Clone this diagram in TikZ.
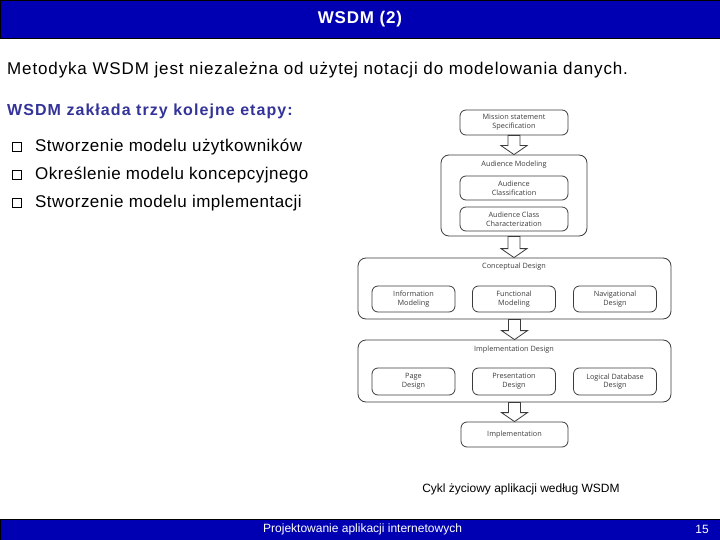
\documentclass[tikz,border=0pt]{standalone}
\usepackage{fontspec}
\setmainfont{Liberation Sans}
\newfontfamily\diagfont{Open Sans}
\usetikzlibrary{calc,shadows}
\definecolor{slideblue}{RGB}{0,0,178}
\definecolor{headblue}{RGB}{51,51,153}
\definecolor{dgray}{RGB}{60,60,60}
\tikzset{
  box/.style={draw=dgray, line width=0.8pt, rounded corners=6pt, align=center,
    font=\diagfont\fontsize{7.3}{8.7}\selectfont, text=dgray, inner sep=0pt},
  outerbox/.style={draw=dgray, line width=0.8pt, rounded corners=8pt, inner sep=0pt},
  boxtitle/.style={font=\diagfont\fontsize{7.3}{8.7}\selectfont, text=dgray, inner sep=0pt},
  smallbox/.style={box, minimum width=83pt, minimum height=26pt},
  midbox/.style={box, minimum width=108pt, minimum height=25pt},
  bulletbox/.style={draw, fill=white, minimum size=9pt, inner sep=0pt, line width=0.9pt,
    drop shadow={shadow xshift=1.4pt, shadow yshift=-1.4pt, fill=black, opacity=1}},
  bodytext/.style={anchor=west, inner sep=0pt, font=\fontsize{17}{20}\selectfont\addfontfeatures{LetterSpace=2.8}},
  hollow/.style={draw=dgray, line width=0.8pt, fill=white, line join=miter},
  bar/.style={fill=slideblue, draw=black, line width=0.8pt}
}
\newcommand{\blockarrow}[2]{%
  \path let \p1=(#1.south), \p2=(#2.north) in
    [hollow] (\x1-6pt,\y1) -- (\x1+6pt,\y1) -- (\x1+6pt,\y2+9pt) -- (\x1+13pt,\y2+9pt)
    -- (\x1,\y2) -- (\x1-13pt,\y2+9pt) -- (\x1-6pt,\y2+9pt) -- cycle;}
\begin{document}
\begin{tikzpicture}[x=1pt,y=-1pt]
\useasboundingbox (0,0) rectangle (720,540);
\fill[white] (0,0) rectangle (720,540);
% title bar
\draw[bar] (0,0) rectangle (720,38);
\node[text=white, font=\bfseries\fontsize{17}{19}\selectfont\addfontfeatures{LetterSpace=4.8}] (title) at (360,19) {WSDM (2)};
% body text
\node[bodytext, font=\fontsize{17}{20}\selectfont\addfontfeatures{LetterSpace=5.1}] (intro) at (7,70) {Metodyka WSDM jest niezależna od użytej notacji do modelowania danych.};
\node[bodytext, text=headblue, font=\bfseries\fontsize{16}{19}\selectfont\addfontfeatures{LetterSpace=6.6}] (head) at (7,111) {WSDM zakłada trzy kolejne etapy:};
\node[bulletbox] (b1) at (16.5,146.5) {};
\node[bulletbox] (b2) at (16.5,174.5) {};
\node[bulletbox] (b3) at (16.5,202.5) {};
\node[bodytext] (t1) at (35,147) {Stworzenie modelu użytkowników};
\node[bodytext] (t2) at (35,175) {Określenie modelu koncepcyjnego};
\node[bodytext] (t3) at (35,203) {Stworzenie modelu implementacji};
% diagram
\node[midbox] (mission) at (514,122.5) {Mission statement\\Specification};
\node[outerbox, minimum width=146pt, minimum height=81pt] (aud) at (514,195.5) {};
\node[boxtitle] (audt) at (514,165) {Audience Modeling};
\node[midbox, minimum height=24pt] (audc) at (514,188) {Audience\\Classification};
\node[midbox, minimum height=24pt] (audcc) at (514,219) {Audience Class\\Characterization};
\node[outerbox, minimum width=313pt, minimum height=61pt] (concept) at (514.5,288.5) {};
\node[boxtitle] (conceptt) at (514,267) {Conceptual Design};
\node[smallbox] (info) at (413.5,299) {Information\\Modeling};
\node[smallbox] (func) at (514,299) {Functional\\Modeling};
\node[smallbox] (nav) at (615,299) {Navigational\\Design};
\node[outerbox, minimum width=313pt, minimum height=62pt] (impld) at (514.5,371) {};
\node[boxtitle] (impldt) at (514,350) {Implementation Design};
\node[smallbox, minimum height=27pt] (page) at (413.5,381.5) {Page\\Design};
\node[smallbox, minimum height=27pt] (pres) at (514,381.5) {Presentation\\Design};
\node[smallbox, minimum height=27pt] (logic) at (615,381.5) {Logical Database\\Design};
\node[midbox, minimum width=107pt] (impl) at (514.5,434.5) {Implementation};
\blockarrow{mission}{aud}
\blockarrow{aud}{concept}
\blockarrow{concept}{impld}
\blockarrow{impld}{impl}
% caption
\node[font=\fontsize{12}{14}\selectfont] (cap) at (521,489) {Cykl życiowy aplikacji według WSDM};
% footer
\draw[bar] (0,519) rectangle (720,541);
\node[text=white, anchor=west, inner sep=0pt, font=\fontsize{12}{14}\selectfont] (foot) at (263,529.5) {Projektowanie aplikacji internetowych};
\node[text=white, anchor=east, inner sep=0pt, font=\fontsize{12}{14}\selectfont] (page15) at (709,529.5) {15};
\end{tikzpicture}
\end{document}
